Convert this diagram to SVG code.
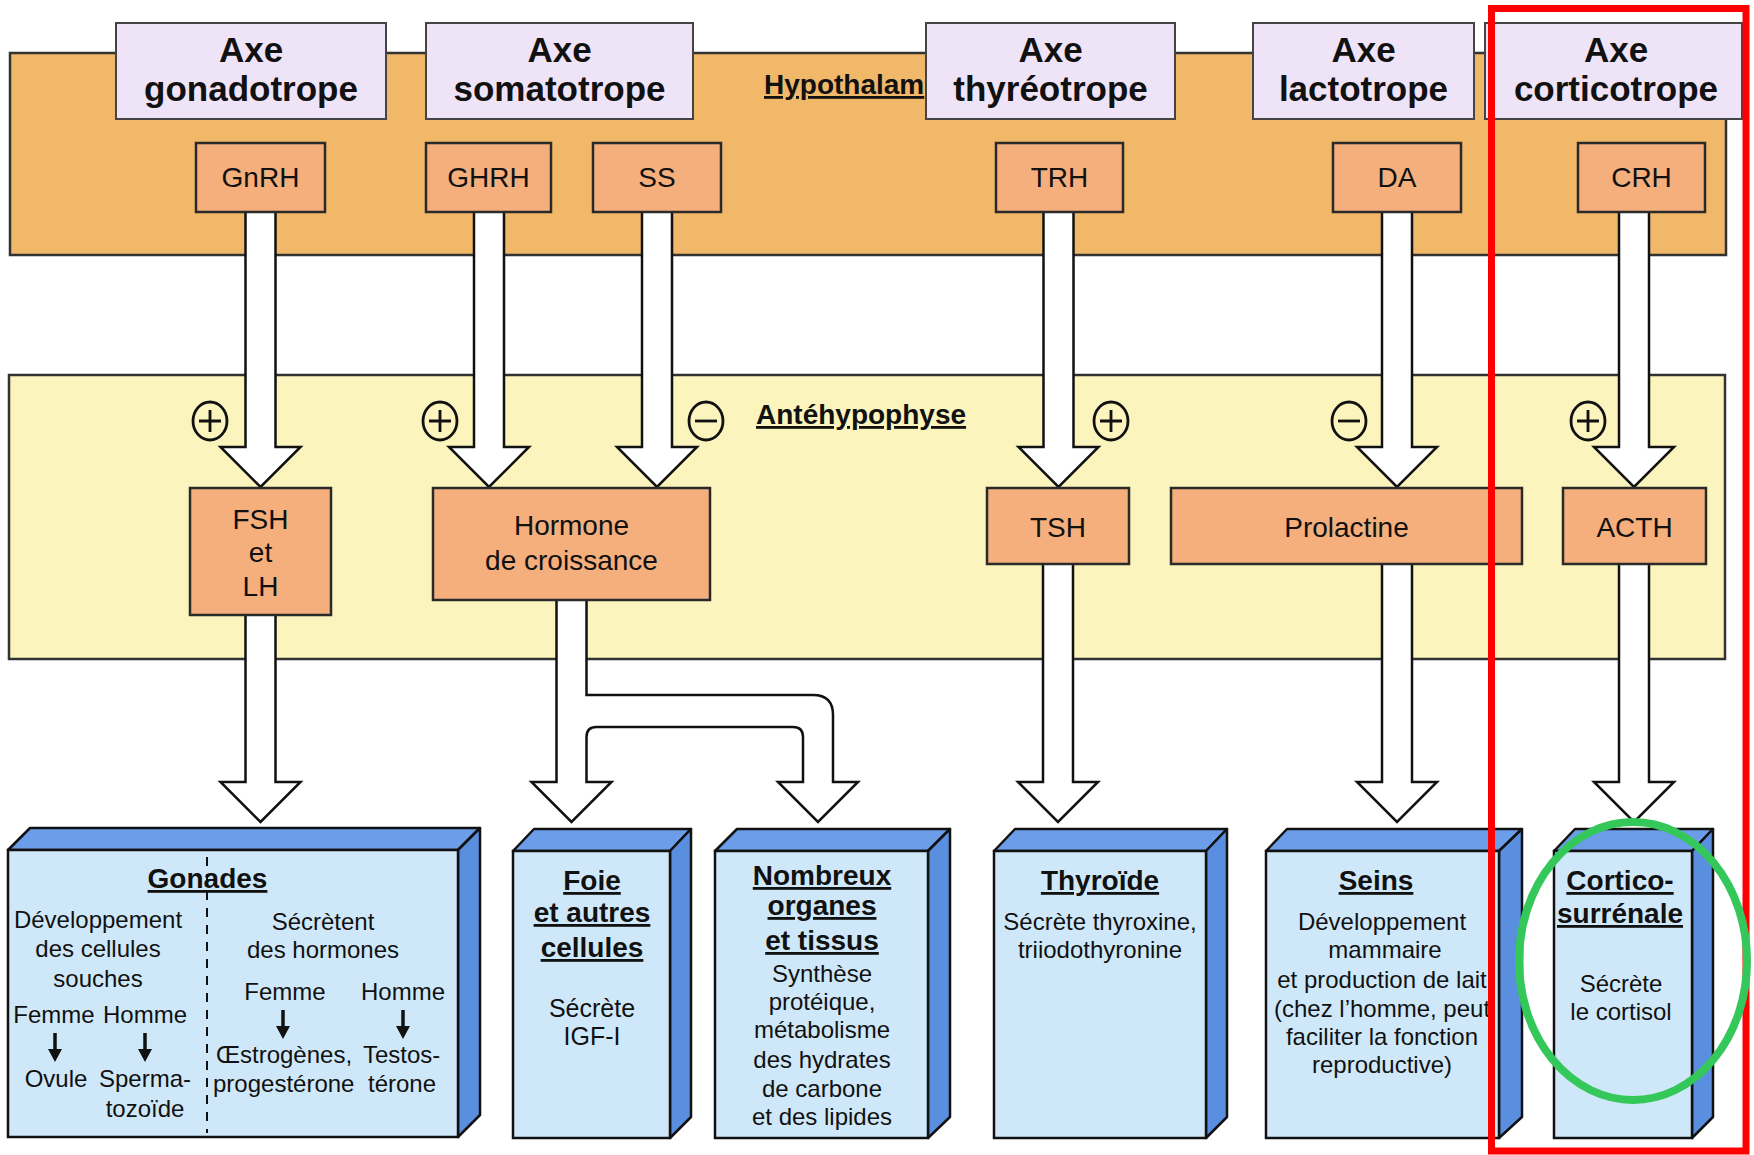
<svg xmlns="http://www.w3.org/2000/svg" width="1754" height="1155" viewBox="0 0 1754 1155">
<style>
.band-h{fill:#F1B86A;stroke:#333;stroke-width:2.5}
.band-a{fill:#FBF4BC;stroke:#333;stroke-width:2.5}
.title{fill:#EFE3F8;stroke:#444;stroke-width:2}
.hb{fill:#F4AF7D;stroke:#2a2a2a;stroke-width:2.5}
.arrow{fill:#fff;stroke:#111;stroke-width:2.5;stroke-linejoin:miter}
.front{fill:#CFE8F9;stroke:#111;stroke-width:2.5}
.side{fill:#5A8FE0;stroke:#111;stroke-width:2.5;stroke-linejoin:round}
.topf{fill:#6C9DE8;stroke:#111;stroke-width:2.5;stroke-linejoin:round}
.sign{fill:none;stroke:#111;stroke-width:2.8}
.small{stroke:#111;stroke-width:3.5;fill:none}
.head{fill:#111}
text{font-family:"Liberation Sans",Arial,Helvetica,sans-serif;fill:#111}
.tt{font-size:35px;font-weight:bold;text-anchor:middle}
.hl{font-size:28px;text-anchor:middle}
.band-label{font-size:28px;font-weight:bold;text-decoration:underline}
.bl{font-size:28px;font-weight:bold;text-anchor:middle;text-decoration:underline}
.t{font-size:24px;text-anchor:middle}
.ts{font-size:24px}
</style>

<!-- bands -->
<g id="hypothalamus">
  <rect class="band-h" x="10" y="53" width="1716" height="202"/>
  <text class="band-label" x="764" y="94">Hypothalam</text>
</g>
<g id="antehypophyse">
  <rect class="band-a" x="9" y="375" width="1716" height="284"/>
  <text class="band-label" x="756" y="424">Antéhypophyse</text>
</g>

<!-- connectors -->
<g id="connectors">
  <path class="arrow" d="M245.5,212 V447 H220.5 L260.5,487 L300.5,447 H275.5 V212"/>
  <path class="arrow" d="M474,212 V447 H449 L489,487 L529,447 H504 V212"/>
  <path class="arrow" d="M642,212 V447 H617 L657,487 L697,447 H672 V212"/>
  <path class="arrow" d="M1043.5,212 V447 H1018.5 L1058.5,487 L1098.5,447 H1073.5 V212"/>
  <path class="arrow" d="M1382,212 V447 H1357 L1397,487 L1437,447 H1412 V212"/>
  <path class="arrow" d="M1619,212 V447 H1594 L1634,487 L1674,447 H1649 V212"/>

  <path class="arrow" d="M245.5,615 V782 H220.5 L260.5,822 L300.5,782 H275.5 V615"/>
  <path class="arrow" d="M556.5,600 V782 H531.5 L571.5,822 L611.5,782 H586.5 V737 Q586.5,727 596.5,727 H793 Q803,727 803,737 V782 H778 L818,822 L858,782 H833 V715 Q833,695 813,695 H586.5 V600"/>
  <path class="arrow" d="M1043,564 V782 H1018 L1058,822 L1098,782 H1073 V564"/>
  <path class="arrow" d="M1382,564 V782 H1357 L1397,822 L1437,782 H1412 V564"/>
  <path class="arrow" d="M1619,564 V782 H1594 L1634,822 L1674,782 H1649 V564"/>
</g>

<!-- signs -->
<g id="signs">
  <ellipse class="sign" cx="210" cy="421" rx="17" ry="19"/><path class="sign" d="M199,421 H221 M210,410 V432"/>
  <ellipse class="sign" cx="440" cy="421" rx="17" ry="19"/><path class="sign" d="M429,421 H451 M440,410 V432"/>
  <ellipse class="sign" cx="706" cy="421" rx="17" ry="19"/><path class="sign" d="M695,421 H717"/>
  <ellipse class="sign" cx="1111" cy="421" rx="17" ry="19"/><path class="sign" d="M1100,421 H1122 M1111,410 V432"/>
  <ellipse class="sign" cx="1349" cy="421" rx="17" ry="19"/><path class="sign" d="M1338,421 H1360"/>
  <ellipse class="sign" cx="1588" cy="421" rx="17" ry="19"/><path class="sign" d="M1577,421 H1599 M1588,410 V432"/>
</g>

<!-- hypothalamic hormones -->
<g id="gnrh"><rect class="hb" x="196" y="143" width="129" height="69"/><text class="hl" x="260.5" y="187">GnRH</text></g>
<g id="ghrh"><rect class="hb" x="426" y="143" width="125" height="69"/><text class="hl" x="488.5" y="187">GHRH</text></g>
<g id="ss"><rect class="hb" x="593" y="143" width="128" height="69"/><text class="hl" x="657" y="187">SS</text></g>
<g id="trh"><rect class="hb" x="996" y="143" width="127" height="69"/><text class="hl" x="1059.5" y="187">TRH</text></g>
<g id="da"><rect class="hb" x="1333" y="143" width="128" height="69"/><text class="hl" x="1397" y="187">DA</text></g>
<g id="crh"><rect class="hb" x="1578" y="143" width="127" height="69"/><text class="hl" x="1641.5" y="187">CRH</text></g>

<!-- pituitary hormones -->
<g id="fsh-lh"><rect class="hb" x="190" y="488" width="141" height="127"/>
  <text class="hl" x="260.5" y="529">FSH</text><text class="hl" x="260.5" y="562">et</text><text class="hl" x="260.5" y="596">LH</text></g>
<g id="gh"><rect class="hb" x="433" y="488" width="277" height="112"/>
  <text class="hl" x="571.5" y="535">Hormone</text><text class="hl" x="571.5" y="570">de croissance</text></g>
<g id="tsh"><rect class="hb" x="987" y="488" width="142" height="76"/><text class="hl" x="1058" y="537">TSH</text></g>
<g id="prolactine"><rect class="hb" x="1171" y="488" width="351" height="76"/><text class="hl" x="1346.5" y="537">Prolactine</text></g>
<g id="acth"><rect class="hb" x="1563" y="488" width="143" height="76"/><text class="hl" x="1634.5" y="537">ACTH</text></g>

<!-- axis titles -->
<g id="axe-gonadotrope"><rect class="title" x="116" y="23" width="270" height="96"/>
  <text class="tt" x="251" y="62">Axe</text><text class="tt" x="251" y="101">gonadotrope</text></g>
<g id="axe-somatotrope"><rect class="title" x="426" y="23" width="267" height="96"/>
  <text class="tt" x="559.5" y="62">Axe</text><text class="tt" x="559.5" y="101">somatotrope</text></g>
<g id="axe-thyreotrope"><rect class="title" x="926" y="23" width="249" height="96"/>
  <text class="tt" x="1050.5" y="62">Axe</text><text class="tt" x="1050.5" y="101">thyréotrope</text></g>
<g id="axe-lactotrope"><rect class="title" x="1253" y="23" width="221" height="96"/>
  <text class="tt" x="1363.5" y="62">Axe</text><text class="tt" x="1363.5" y="101">lactotrope</text></g>
<g id="axe-corticotrope"><rect class="title" x="1485" y="23" width="257" height="96"/>
  <text class="tt" x="1616" y="62">Axe</text><text class="tt" x="1616" y="101">corticotrope</text></g>

<!-- target organs -->
<g id="gonades">
  <polygon class="topf" points="8,850 30,828 480,828 458,850"/>
  <polygon class="side" points="458,850 480,828 480,1115 458,1137"/>
  <rect class="front" x="8" y="850" width="450" height="287"/>
  <line x1="207" y1="857" x2="207" y2="1133" stroke="#111" stroke-width="2" stroke-dasharray="9 8"/>
  <text class="bl" x="207.5" y="888">Gonades</text>
  <text class="t" x="98" y="928">Développement</text>
  <text class="t" x="98" y="957">des cellules</text>
  <text class="t" x="98" y="987">souches</text>
  <text class="t" x="54" y="1023">Femme</text>
  <text class="t" x="145" y="1023">Homme</text>
  <path class="small" d="M55,1033 V1050 M145,1033 V1050"/>
  <path class="head" d="M48,1049 H62 L55,1062 Z M138,1049 H152 L145,1062 Z"/>
  <text class="t" x="56" y="1087">Ovule</text>
  <text class="t" x="145" y="1087">Sperma-</text>
  <text class="t" x="145" y="1117">tozoïde</text>
  <text class="t" x="323" y="930">Sécrètent</text>
  <text class="t" x="323" y="958">des hormones</text>
  <text class="t" x="285" y="1000">Femme</text>
  <text class="t" x="403" y="1000">Homme</text>
  <path class="small" d="M283,1010 V1027 M403,1010 V1027"/>
  <path class="head" d="M276,1026 H290 L283,1039 Z M396,1026 H410 L403,1039 Z"/>
  <text class="ts" x="216" y="1063">Œstrogènes,</text>
  <text class="ts" x="363" y="1063">Testos-</text>
  <text class="ts" x="213" y="1092">progestérone</text>
  <text class="ts" x="368" y="1092">térone</text>
</g>

<g id="foie">
  <polygon class="topf" points="513,851 534,829 691,829 670,851"/>
  <polygon class="side" points="670,851 691,829 691,1117 670,1138"/>
  <rect class="front" x="513" y="851" width="157" height="287"/>
  <text class="bl" x="592" y="890">Foie</text>
  <text class="bl" x="592" y="922">et autres</text>
  <text class="bl" x="592" y="957">cellules</text>
  <text class="t" x="592" y="1017" style="font-size:25px">Sécrète</text>
  <text class="t" x="592" y="1045" style="font-size:25px">IGF-I</text>
</g>

<g id="nombreux-organes">
  <polygon class="topf" points="715,851 737,829 950,829 928,851"/>
  <polygon class="side" points="928,851 950,829 950,1117 928,1138"/>
  <rect class="front" x="715" y="851" width="213" height="287"/>
  <text class="bl" x="822" y="885">Nombreux</text>
  <text class="bl" x="822" y="915">organes</text>
  <text class="bl" x="822" y="950">et tissus</text>
  <text class="t" x="822" y="982">Synthèse</text>
  <text class="t" x="822" y="1010">protéique,</text>
  <text class="t" x="822" y="1038">métabolisme</text>
  <text class="t" x="822" y="1068">des hydrates</text>
  <text class="t" x="822" y="1097">de carbone</text>
  <text class="t" x="822" y="1125">et des lipides</text>
</g>

<g id="thyroide">
  <polygon class="topf" points="994,851 1015,829 1227,829 1206,851"/>
  <polygon class="side" points="1206,851 1227,829 1227,1117 1206,1138"/>
  <rect class="front" x="994" y="851" width="212" height="287"/>
  <text class="bl" x="1100" y="890">Thyroïde</text>
  <text class="t" x="1100" y="930">Sécrète thyroxine,</text>
  <text class="t" x="1100" y="958">triiodothyronine</text>
</g>

<g id="seins">
  <polygon class="topf" points="1266,851 1287,829 1522,829 1499,851"/>
  <polygon class="side" points="1499,851 1522,829 1522,1117 1499,1138"/>
  <rect class="front" x="1266" y="851" width="233" height="287"/>
  <text class="bl" x="1376" y="890">Seins</text>
  <text class="t" x="1382" y="930">Développement</text>
  <text class="t" x="1385" y="958">mammaire</text>
  <text class="t" x="1382" y="988">et production de lait</text>
  <text class="t" x="1382" y="1017">(chez l’homme, peut</text>
  <text class="t" x="1382" y="1045">faciliter la fonction</text>
  <text class="t" x="1382" y="1073">reproductive)</text>
</g>

<g id="corticosurrenale">
  <polygon class="topf" points="1554,851 1575,829 1713,829 1692,851"/>
  <polygon class="side" points="1692,851 1713,829 1713,1117 1692,1138"/>
  <rect class="front" x="1554" y="851" width="138" height="287"/>
  <text class="bl" x="1620" y="890">Cortico-</text>
  <text class="bl" x="1620" y="923">surrénale</text>
  <text class="t" x="1621" y="992">Sécrète</text>
  <text class="t" x="1621" y="1020">le cortisol</text>
</g>

<!-- highlights -->
<g id="highlight">
  <rect x="1491.5" y="8.5" width="254.5" height="1142.5" fill="none" stroke="#FF0000" stroke-width="7"/>
  <ellipse cx="1633" cy="961" rx="114" ry="139" fill="none" stroke="#34C759" stroke-width="8"/>
</g>
</svg>
